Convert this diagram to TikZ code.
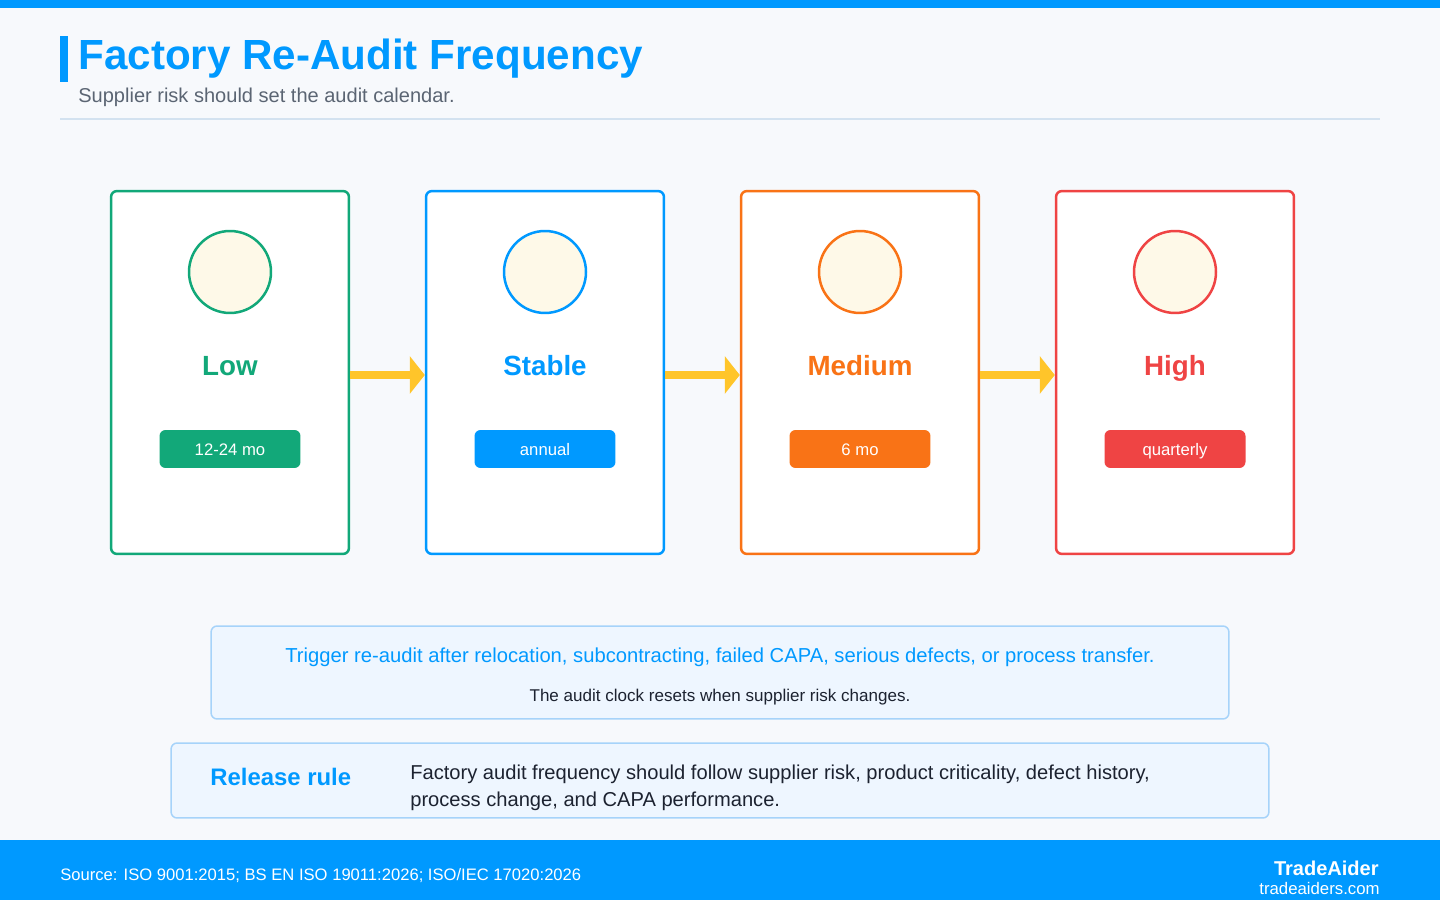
\documentclass[tikz,border=0pt]{standalone}
\usepackage{fontspec}
\setmainfont{Liberation Sans}
\usepackage{tikz}
\usepackage{xcolor}
\usetikzlibrary{arrows.meta,positioning,calc}
\definecolor{cBlue}{HTML}{0099FF}
\definecolor{cLow}{HTML}{12A879}
\definecolor{cMid}{HTML}{F97316}
\definecolor{cHigh}{HTML}{EF4444}
\definecolor{cGold}{HTML}{FFC52A}
\definecolor{cDial}{HTML}{FEF9E8}
\definecolor{cPaper}{HTML}{F7F9FC}
\definecolor{cPanel}{HTML}{EEF6FF}
\definecolor{cPanelLine}{HTML}{A6D3FA}
\definecolor{cRule}{HTML}{D3E2F0}
\definecolor{cInk}{HTML}{1C2230}
\definecolor{cSub}{HTML}{5B6573}
\tikzset{
  card/.style  ={rounded corners=0.12cm,line width=0.05cm,fill=white,
                 minimum width=4.76cm,minimum height=7.26cm,inner sep=0pt},
  dial/.style  ={circle,line width=0.05cm,fill=cDial,minimum size=1.64cm,inner sep=0pt},
  tier/.style  ={anchor=base,inner sep=0pt,font=\fontsize{15.8}{18}\selectfont\bfseries},
  pill/.style  ={rounded corners=0.12cm,minimum width=2.82cm,minimum height=0.76cm,
                 inner sep=0pt,text height=0.9em,text depth=0.2em,text=white,
                 font=\fontsize{9.5}{11}\selectfont},
  flow/.style  ={-{Triangle[length=0.3cm,width=0.74cm]},line width=0.16cm,cGold},
  panel/.style ={rounded corners=0.12cm,draw=cPanelLine,line width=0.03cm,fill=cPanel,
                 inner sep=0pt},
}
\begin{document}
\begin{tikzpicture}[x=0.02cm,y=0.02cm]
\useasboundingbox (0,0) rectangle (1440,900);
\fill[cPaper] (0,0) rectangle (1440,900);
% header
\fill[cBlue] (0,892) rectangle (1440,900);
\fill[cBlue] (60,818) rectangle (68,864);
\node[anchor=base west,inner sep=0pt,text=cBlue,font=\fontsize{24}{29}\selectfont\bfseries]
   (title) at (78,830) {Factory Re-Audit Frequency};
\node[anchor=base west,inner sep=0pt,text=cSub,font=\fontsize{11.4}{13}\selectfont]
   (subtitle) at (78,797) {Supplier risk should set the audit calendar.};
\draw[cRule,line width=0.04cm] (60,781) -- (1380,781);
% tiers
\node[card,draw=cLow] (low) at (230,527.5) {};
\node[dial,draw=cLow] (lowdial) at (230,628) {};
\node[tier,text=cLow] (lowlbl) at (230,524) {Low};
\node[pill,fill=cLow] (lowpill) at (230,451) {12-24 mo};

\node[card,draw=cBlue] (stable) at (545,527.5) {};
\node[dial,draw=cBlue] (stabledial) at (545,628) {};
\node[tier,text=cBlue] (stablelbl) at (545,524) {Stable};
\node[pill,fill=cBlue] (stablepill) at (545,451) {annual};

\node[card,draw=cMid] (medium) at (860,527.5) {};
\node[dial,draw=cMid] (mediumdial) at (860,628) {};
\node[tier,text=cMid] (mediumlbl) at (860,524) {Medium};
\node[pill,fill=cMid] (mediumpill) at (860,451) {6 mo};

\node[card,draw=cHigh] (high) at (1175,527.5) {};
\node[dial,draw=cHigh] (highdial) at (1175,628) {};
\node[tier,text=cHigh] (highlbl) at (1175,524) {High};
\node[pill,fill=cHigh] (highpill) at (1175,451) {quarterly};
% escalation
\draw[flow] ($(low.east)+(0,-2.5)$) -- ($(stable.west)+(0,-2.5)$);
\draw[flow] ($(stable.east)+(0,-2.5)$) -- ($(medium.west)+(0,-2.5)$);
\draw[flow] ($(medium.east)+(0,-2.5)$) -- ($(high.west)+(0,-2.5)$);
% triggers
\node[panel,minimum width=20.36cm,minimum height=1.86cm] (trig) at (720,227.5) {};
\node[text=cBlue,font=\fontsize{11.5}{13}\selectfont] (triglbl) at (720,243)
   {Trigger re-audit after relocation, subcontracting, failed CAPA, serious defects, or process transfer.};
\node[text=cInk,font=\fontsize{9.7}{11}\selectfont] (trignote) at (720,202.5)
   {The audit clock resets when supplier risk changes.};
% release rule
\node[panel,minimum width=21.96cm,minimum height=1.5cm] (rule) at (720,119.5) {};
\node[anchor=west,inner sep=0pt,text=cBlue,font=\fontsize{13.6}{16}\selectfont\bfseries]
   (rulelbl) at (210,123) {Release rule};
\node[anchor=west,inner sep=0pt,align=left,text=cInk,font=\fontsize{11.45}{15.3}\selectfont]
   (ruletext) at (410,112) {Factory audit frequency should follow supplier risk, product criticality, defect history,\\
   process change, and CAPA performance.};
% footer
\fill[cBlue] (0,0) rectangle (1440,60);
\node[anchor=west,inner sep=0pt,text=white,font=\fontsize{9.45}{11}\selectfont]
   (source) at (60,24.5) {Source: ISO 9001:2015; BS EN ISO 19011:2026; ISO/IEC 17020:2026};
\node[anchor=east,inner sep=0pt,text=white,font=\fontsize{11.4}{13}\selectfont\bfseries]
   (brand) at (1379,32) {TradeAider};
\node[anchor=east,inner sep=0pt,text=white,font=\fontsize{9.55}{11}\selectfont]
   (site) at (1380,12) {tradeaiders.com};
\end{tikzpicture}
\end{document}
